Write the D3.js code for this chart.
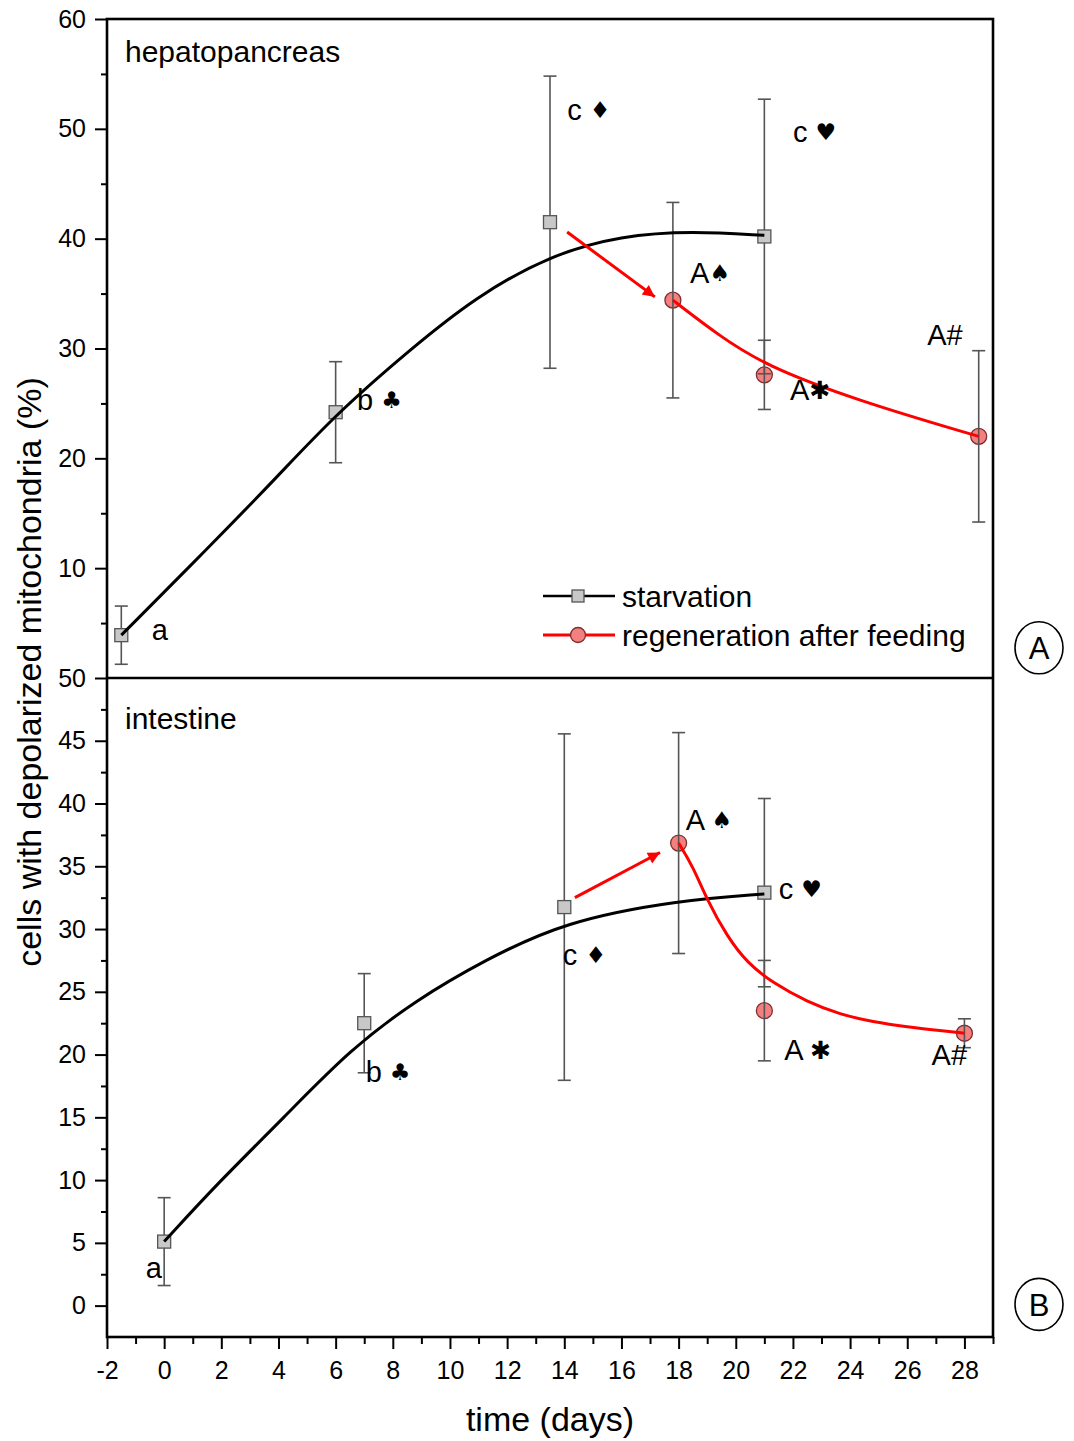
<!DOCTYPE html>
<html>
<head>
<meta charset="utf-8">
<script src="https://cdn.jsdelivr.net/npm/d3@7"></script>
<style>
body{margin:0;background:#fff;}
text{font-family:"Liberation Sans",Arial,sans-serif;fill:#000;}
</style>
</head>
<body>
<svg id="chart"></svg>
<script>
// tick values
const xTickValues = [-2,0,2,4,6,8,10,12,14,16,18,20,22,24,26,28];
const xMinorTicks = [-1,1,3,5,7,9,11,13,15,17,19,21,23,25,27,29];
const topTickValues = [10,20,30,40,50,60];
const topMinorTicks = [5,15,25,35,45,55];
const botTickValues = [0,5,10,15,20,25,30,35,40,45,50];
const botMinorTicks = [2.5,7.5,12.5,17.5,22.5,27.5,32.5,37.5,42.5,47.5];

// hepatopancreas (panel A)
const hepStarvDays = [-1.5, 6, 13.5, 21];
const hepStarvVal  = [3.9, 24.2, 41.5, 40.2];
const hepStarvErr  = [2.65, 4.6, 13.3, 12.5];
const hepRegenDays = [17.8, 21, 28.5];
const hepRegenVal  = [34.4, 27.6, 22.0];
const hepRegenErr  = [8.9, 3.15, 7.8];
// fitted curves
const hepStarvFitX = [-1.5, 1.6, 3.95, 6, 8.6, 10.9, 13.5, 16, 18.5, 21];
const hepStarvFitY = [3.9, 12.0, 18.3, 24, 29.9, 34.7, 38.5, 40.3, 40.7, 40.3];
const hepRegenFitX = [17.8, 19.45, 21, 24.2, 28.5];
const hepRegenFitY = [34.4, 31.1, 28.5, 25.3, 22.0];
const hepArrowX = [14.1, 17.17];
const hepArrowY = [40.6, 34.7];

// intestine (panel B)
const intStarvDays = [0, 7, 14, 21];
const intStarvVal  = [5.1, 22.5, 31.75, 32.9];
const intStarvErr  = [3.5, 3.95, 13.8, 7.5];
const intRegenDays = [18, 21, 28];
const intRegenVal  = [36.85, 23.5, 21.7];
const intRegenErr  = [8.8, 4.0, 1.15];
const intStarvFitX = [0, 1.85, 4.2, 6.5, 8.85, 11.2, 14, 18, 21];
const intStarvFitY = [5.1, 9.7, 15.0, 20.4, 24.4, 27.5, 30.6, 32.3, 32.8];
const intRegenFitX = [18, 18.5, 19, 19.7, 20.4, 21.3, 22.5, 23.65, 24.8, 26, 27.2, 28];
const intRegenFitY = [36.85, 35.0, 32.3, 29.4, 27.3, 25.7, 24.2, 23.2, 22.6, 22.2, 21.9, 21.7];
const intArrowX = [14.37, 17.35];
const intArrowY = [32.5, 36.1];

// significance letters (text, day, value)
const hepLabels = ["a", "b \u2663", "c \u2666", "c \u2665", "A\u2660", "A\u2731", "A#"];
const hepLabelX = [-0.43, 6.75, 14.1, 22.0, 18.4, 21.9, 26.7];
const hepLabelY = [3.5, 24.4, 50.8, 48.8, 36.0, 25.3, 30.3];
const intLabels = ["a", "b \u2663", "c \u2666", "c \u2665", "A \u2660", "A \u2731", "A#"];
const intLabelX = [-0.64, 7.05, 13.95, 21.5, 18.25, 21.7, 26.85];
const intLabelY = [2.2, 17.8, 27.1, 32.4, 37.9, 19.6, 19.2];

const legendNames = ["starvation", "regeneration after feeding"];

const width = 1074, height = 1441;
const plotLeft = 107, plotRight = 993, plotTop = 19, plotMid = 678, plotBottom = 1337;

let svg = d3.select("#chart")
    .attr("width", width)
    .attr("height", height);

svg.append("defs").append("marker")
    .attr("id", "arrowhead")
    .attr("markerUnits", "userSpaceOnUse")
    .attr("viewBox", "0 0 10 10")
    .attr("refX", 10)
    .attr("refY", 5)
    .attr("markerWidth", 18)
    .attr("markerHeight", 12)
    .attr("orient", "auto")
    .append("path")
    .attr("d", "M0,0 L10,5 L0,10 Z")
    .attr("fill", "#ff0000");

let x = d3.scaleLinear().domain([-2, 29]).range([plotLeft, plotRight]);
let yTop = d3.scaleLinear().domain([0, 60]).range([plotMid, plotTop]);
let yBot = d3.scaleLinear().domain([-2.5, 50]).range([plotBottom, plotMid]);

//axes
function styleAxis(g){
    g.select(".domain").remove();
    g.selectAll(".tick line").attr("stroke", "#000").attr("stroke-width", 2);
    g.selectAll(".tick text").attr("font-size", "25px").attr("font-family", "'Liberation Sans',Arial,sans-serif");
}
let plain = d => String(d);

svg.append("g")
    .attr("transform", `translate(${plotLeft},0)`)
    .call(d3.axisLeft(yTop).tickValues(topTickValues).tickFormat(plain).tickSize(12).tickPadding(9))
    .call(styleAxis);
svg.append("g")
    .attr("transform", `translate(${plotLeft},0)`)
    .call(d3.axisLeft(yTop).tickValues(topMinorTicks).tickSize(6).tickFormat(""))
    .call(styleAxis);
svg.append("g")
    .attr("transform", `translate(${plotLeft},0)`)
    .call(d3.axisLeft(yBot).tickValues(botTickValues).tickFormat(plain).tickSize(12).tickPadding(9))
    .call(styleAxis);
svg.append("g")
    .attr("transform", `translate(${plotLeft},0)`)
    .call(d3.axisLeft(yBot).tickValues(botMinorTicks).tickSize(6).tickFormat(""))
    .call(styleAxis);
svg.append("g")
    .attr("transform", `translate(0,${plotBottom})`)
    .call(d3.axisBottom(x).tickValues(xTickValues).tickFormat(plain).tickSize(12).tickPadding(12))
    .call(styleAxis);
svg.append("g")
    .attr("transform", `translate(0,${plotBottom})`)
    .call(d3.axisBottom(x).tickValues(xMinorTicks).tickSize(7).tickFormat(""))
    .call(styleAxis);

//frame and divider
svg.append("rect")
    .attr("x", plotLeft).attr("y", plotTop)
    .attr("width", plotRight - plotLeft).attr("height", plotBottom - plotTop)
    .attr("fill", "none").attr("stroke", "#000").attr("stroke-width", 2.6);
svg.append("line")
    .attr("x1", plotLeft).attr("x2", plotRight)
    .attr("y1", plotMid).attr("y2", plotMid)
    .attr("stroke", "#000").attr("stroke-width", 2.6);

//draw one panel
function drawPanel(y, p){
    let g = svg.append("g");
    let line = d3.line().x(d => x(d[0])).y(d => y(d[1])).curve(d3.curveBasis);

    let starv = p.sd.map((d, i) => ({x: d, v: p.sv[i], e: p.se[i]}));
    let regen = p.rd.map((d, i) => ({x: d, v: p.rv[i], e: p.re[i]}));

    //regeneration markers
    g.selectAll("circle.regen")
        .data(regen)
        .enter()
        .append("circle")
        .attr("cx", d => x(d.x))
        .attr("cy", d => y(d.v))
        .attr("r", 8)
        .attr("fill", "#f47f7f")
        .attr("stroke", "#7a3030")
        .attr("stroke-width", 1.3);

    //error bars
    let bars = starv.concat(regen);
    let eb = g.selectAll("g.err")
        .data(bars)
        .enter()
        .append("g")
        .attr("stroke", "#555")
        .attr("stroke-width", 1.6);
    eb.append("line")
        .attr("x1", d => x(d.x)).attr("x2", d => x(d.x))
        .attr("y1", d => y(d.v + d.e)).attr("y2", d => y(d.v - d.e));
    eb.append("line")
        .attr("x1", d => x(d.x) - 6.5).attr("x2", d => x(d.x) + 6.5)
        .attr("y1", d => y(d.v + d.e)).attr("y2", d => y(d.v + d.e));
    eb.append("line")
        .attr("x1", d => x(d.x) - 6.5).attr("x2", d => x(d.x) + 6.5)
        .attr("y1", d => y(d.v - d.e)).attr("y2", d => y(d.v - d.e));

    //starvation markers
    g.selectAll("rect.starv")
        .data(starv)
        .enter()
        .append("rect")
        .attr("x", d => x(d.x) - 6.5)
        .attr("y", d => y(d.v) - 6.5)
        .attr("width", 13)
        .attr("height", 13)
        .attr("fill", "#c8c8c8")
        .attr("stroke", "#555")
        .attr("stroke-width", 1.3);

    //fitted curves
    g.append("path")
        .datum(p.sfx.map((d, i) => [d, p.sfy[i]]))
        .attr("d", line)
        .attr("fill", "none")
        .attr("stroke", "#000")
        .attr("stroke-width", 3);
    g.append("path")
        .datum(p.rfx.map((d, i) => [d, p.rfy[i]]))
        .attr("d", line)
        .attr("fill", "none")
        .attr("stroke", "#ff0000")
        .attr("stroke-width", 3);

    //arrow
    g.append("line")
        .attr("x1", x(p.ax[0])).attr("y1", y(p.ay[0]))
        .attr("x2", x(p.ax[1])).attr("y2", y(p.ay[1]))
        .attr("stroke", "#ff0000")
        .attr("stroke-width", 3)
        .attr("marker-end", "url(#arrowhead)");

    //letters
    p.lt.forEach((t, i) => {
        let txt = g.append("text")
            .attr("x", x(p.lx[i]))
            .attr("y", y(p.ly[i]))
            .attr("font-size", "29px");
        Array.from(t).forEach(ch => {
            if("\u2660\u2663\u2665\u2666\u2731".includes(ch)){
                txt.append("tspan")
                    .attr("font-family", "'DejaVu Sans',sans-serif")
                    .attr("font-size", ch === "\u2731" ? "25px" : "23px")
                    .attr("dy", ch === "\u2731" ? "-1" : "-2")
                    .text(ch);
            } else {
                txt.append("tspan").text(ch);
            }
        });
    });

    //panel name
    g.append("text")
        .attr("x", plotLeft + 18)
        .attr("y", y(p.titleV))
        .attr("font-size", "30px")
        .text(p.title);
}

drawPanel(yTop, {
    sd: hepStarvDays, sv: hepStarvVal, se: hepStarvErr,
    rd: hepRegenDays, rv: hepRegenVal, re: hepRegenErr,
    sfx: hepStarvFitX, sfy: hepStarvFitY, rfx: hepRegenFitX, rfy: hepRegenFitY,
    ax: hepArrowX, ay: hepArrowY,
    lt: hepLabels, lx: hepLabelX, ly: hepLabelY,
    title: "hepatopancreas", titleV: 56.1
});
drawPanel(yBot, {
    sd: intStarvDays, sv: intStarvVal, se: intStarvErr,
    rd: intRegenDays, rv: intRegenVal, re: intRegenErr,
    sfx: intStarvFitX, sfy: intStarvFitY, rfx: intRegenFitX, rfy: intRegenFitY,
    ax: intArrowX, ay: intArrowY,
    lt: intLabels, lx: intLabelX, ly: intLabelY,
    title: "intestine", titleV: 45.9
});

//legend
let legend = svg.append("g").attr("transform", "translate(543,596)");
legendNames.forEach((name, i) => {
    let row = legend.append("g").attr("transform", `translate(0,${i * 39})`);
    row.append("line")
        .attr("x1", 0).attr("x2", 72)
        .attr("stroke", i === 0 ? "#000" : "#ff0000")
        .attr("stroke-width", i === 0 ? 2.5 : 3);
    if(i === 0){
        row.append("rect")
            .attr("x", 29).attr("y", -6).attr("width", 12).attr("height", 12)
            .attr("fill", "#c8c8c8").attr("stroke", "#555").attr("stroke-width", 1.3);
    } else {
        row.append("circle")
            .attr("cx", 35).attr("r", 7.5)
            .attr("fill", "#f47f7f").attr("stroke", "#7a3030").attr("stroke-width", 1.3);
    }
    row.append("text")
        .attr("x", 79)
        .attr("dy", "0.36em")
        .attr("font-size", "30px")
        .text(name);
});

//panel tags A and B
[["A", yTop(2.75)], ["B", yBot(0.1)]].forEach(t => {
    svg.append("ellipse")
        .attr("cx", 1039).attr("cy", t[1])
        .attr("rx", 24).attr("ry", 26)
        .attr("fill", "none").attr("stroke", "#000").attr("stroke-width", 1.6);
    svg.append("text")
        .attr("x", 1039).attr("y", t[1])
        .attr("dy", "0.36em")
        .attr("text-anchor", "middle")
        .attr("font-size", "31px")
        .text(t[0]);
});

//axis titles
svg.append("text")
    .attr("x", (plotLeft + plotRight) / 2)
    .attr("y", 1431)
    .attr("text-anchor", "middle")
    .attr("font-size", "34px")
    .text("time (days)");
svg.append("text")
    .attr("transform", "translate(41,672) rotate(-90)")
    .attr("text-anchor", "middle")
    .attr("font-size", "34px")
    .text("cells with depolarized mitochondria (%)");
</script>
</body>
</html>
